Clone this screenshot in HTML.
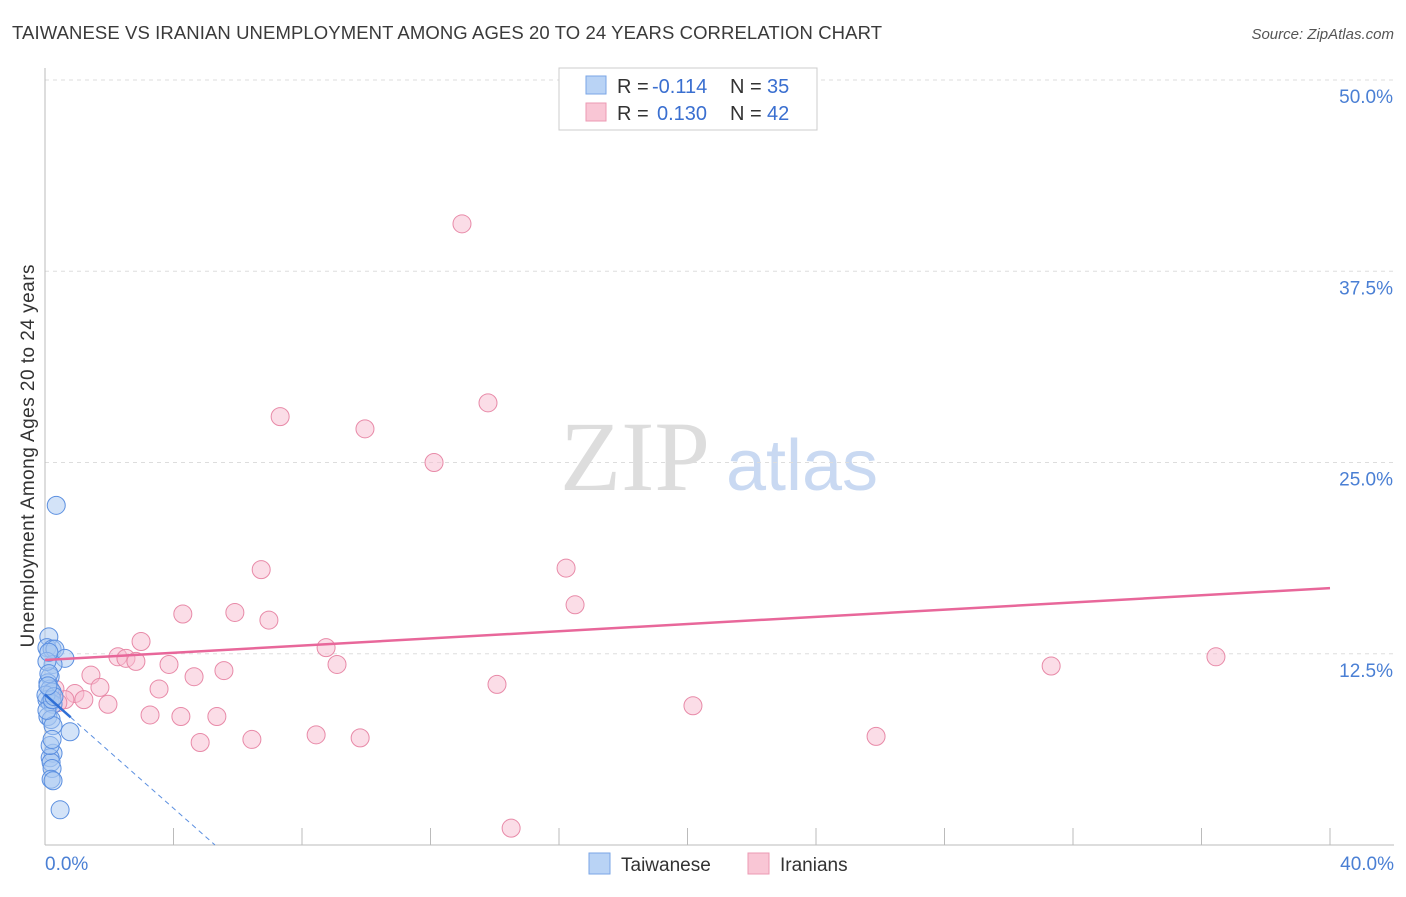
<!DOCTYPE html>
<html><head><meta charset="utf-8"><style>
body{margin:0;background:#fff;font-family:"Liberation Sans",sans-serif;}
</style></head><body>
<svg width="1406" height="892" xmlns="http://www.w3.org/2000/svg" id="chart">
<text x="12" y="39" font-size="18.5" fill="#3a3a3a" textLength="870">TAIWANESE VS IRANIAN UNEMPLOYMENT AMONG AGES 20 TO 24 YEARS CORRELATION CHART</text>
<text x="1394" y="39" font-size="15" fill="#555" text-anchor="end" font-style="italic">Source: ZipAtlas.com</text>
<text x="635" y="490" font-size="100" fill="#ddd" font-family="Liberation Serif" text-anchor="middle">ZIP</text>
<text x="802" y="490" font-size="72" fill="#c9d9f2" text-anchor="middle">atlas</text>
<g id="grid"></g>
<line x1="45" y1="68" x2="45" y2="845" stroke="#bbb"/>
<line x1="45" y1="845" x2="1394" y2="845" stroke="#bbb"/>
<text x="34" y="456" font-size="19" fill="#333" text-anchor="middle" textLength="383" transform="rotate(-90 34 456)">Unemployment Among Ages 20 to 24 years</text>
<text x="45" y="870" font-size="19" fill="#4a7fd4">0.0%</text>
<text x="1394" y="870" font-size="19" fill="#4a7fd4" text-anchor="end">40.0%</text>
<g id="marks"></g>
<g>
<rect x="559" y="68" width="258" height="62" fill="#fff" stroke="#ccc"/>
<rect x="586" y="76" width="20" height="18" fill="#b9d3f5" stroke="#7aa6e6"/>
<rect x="586" y="103" width="20" height="18" fill="#f9c6d5" stroke="#ec9ab3"/>
<text x="617" y="93" font-size="20" fill="#333">R =</text><text x="652" y="93" font-size="20" fill="#3a6fd0">-0.114</text>
<text x="730" y="93" font-size="20" fill="#333">N =</text><text x="767" y="93" font-size="20" fill="#3a6fd0">35</text>
<text x="617" y="120" font-size="20" fill="#333">R =</text><text x="657" y="120" font-size="20" fill="#3a6fd0">0.130</text>
<text x="730" y="120" font-size="20" fill="#333">N =</text><text x="767" y="120" font-size="20" fill="#3a6fd0">42</text>
</g>
<g>
<rect x="589" y="853" width="21" height="21" fill="#b9d3f5" stroke="#7aa6e6"/>
<text x="621" y="871" font-size="19" fill="#333">Taiwanese</text>
<rect x="748" y="853" width="21" height="21" fill="#f9c6d5" stroke="#ec9ab3"/>
<text x="780" y="871" font-size="19" fill="#333">Iranians</text>
</g>
</svg>
<script>
const yTicks=[12.5,25,37.5,50];
const xTicks=[4,8,12,16,20,24,28,32,36,40];
const taiwaneseX=[0.35,0.12,0.06,0.22,0.31,0.62,0.25,0.16,0.09,0.16,0.22,0.06,0.16,0.25,0.09,0.19,0.25,0.78,0.25,0.16,0.19,0.22,0.19,0.25,0.47,0.06,0.12,0.03,0.06,0.22,0.28,0.09,0.16,0.22,0.12];
const taiwaneseY=[22.2,13.6,12.9,12.8,12.8,12.2,11.8,11.0,10.6,10.2,10.0,9.5,9.3,9.2,8.4,8.2,7.8,7.4,6.0,5.7,5.4,5.0,4.3,4.2,2.3,12.0,11.2,9.8,8.8,9.5,9.7,10.4,6.5,6.9,12.6];
const iranianX=[12.98,13.79,7.32,9.96,12.11,16.22,6.73,16.50,4.29,5.91,6.97,2.99,8.75,2.27,2.52,2.83,3.86,9.09,31.32,36.45,5.57,1.43,4.64,1.71,3.55,14.07,0.93,0.31,1.21,0.62,1.96,20.17,3.27,4.23,5.35,8.44,9.81,6.44,4.83,25.87,14.51,0.40];
const iranianY=[40.6,28.9,28.0,27.2,25.0,18.1,18.0,15.7,15.1,15.2,14.7,13.3,12.9,12.3,12.2,12.0,11.8,11.8,11.7,12.3,11.4,11.1,11.0,10.3,10.2,10.5,9.9,10.2,9.5,9.5,9.2,9.1,8.5,8.4,8.4,7.2,7.0,6.9,6.7,7.1,1.1,9.3];
const X=v=>45+v*32.125, Y=v=>845-v*15.3;
const NS="http://www.w3.org/2000/svg";
const grid=document.getElementById('grid'), marks=document.getElementById('marks');
function mk(t,a,p){const e=document.createElementNS(NS,t);for(const k in a)e.setAttribute(k,a[k]);p.appendChild(e);return e;}
yTicks.forEach(v=>{
 const l=mk('line',{x1:45,x2:1394,y1:Y(v),y2:Y(v),stroke:'#ddd','stroke-dasharray':'4,4'},grid);
 
 
 const t=mk('text',{x:1393,y:Y(v)+23,'font-size':19,fill:'#4a7fd4','text-anchor':'end'},grid);
 t.textContent=v.toFixed(1)+'%';
 
 
});
xTicks.forEach(v=>{
 const l=mk('line',{x1:X(v),x2:X(v),y1:828,y2:845,stroke:'#bbb'},grid);
 
 
});
function dots(xs,ys,fill,stroke,name){xs.forEach((x,i)=>{
 const c=mk('circle',{cx:X(x),cy:Y(ys[i]),r:9,fill:fill,'fill-opacity':0.5,stroke:stroke,'stroke-width':1},marks);
 
 
});}
dots(iranianX,iranianY,'#f7bcd0','#e88aa8','iranian-point');
dots(taiwaneseX,taiwaneseY,'#a8c8f2','#5b8fe0','taiwanese-point');
function fit(xs,ys){const n=xs.length,mx=xs.reduce((a,b)=>a+b)/n,my=ys.reduce((a,b)=>a+b)/n;let sxy=0,sxx=0;xs.forEach((x,i)=>{sxy+=(x-mx)*(ys[i]-my);sxx+=(x-mx)**2;});const b=sxy/sxx;return [my-b*mx,b];}
const [ai,bi]=fit(iranianX,iranianY);
let l=mk('line',{x1:X(0),y1:Y(ai),x2:X(40),y2:Y(ai+bi*40),stroke:'#e8679a','stroke-width':2.5},marks);


const [at,bt]=fit(taiwaneseX,taiwaneseY);
const xEnd=Math.min(40,-at/bt);
l=mk('line',{x1:X(0.8),y1:Y(at+bt*0.8),x2:X(xEnd),y2:Y(at+bt*xEnd),stroke:'#5b8fe0','stroke-width':1,'stroke-dasharray':'5,4'},marks);


l=mk('line',{x1:X(0),y1:Y(at),x2:X(0.8),y2:Y(at+bt*0.8),stroke:'#2f6fd6','stroke-width':2.5},marks);


</script>
</body></html>
